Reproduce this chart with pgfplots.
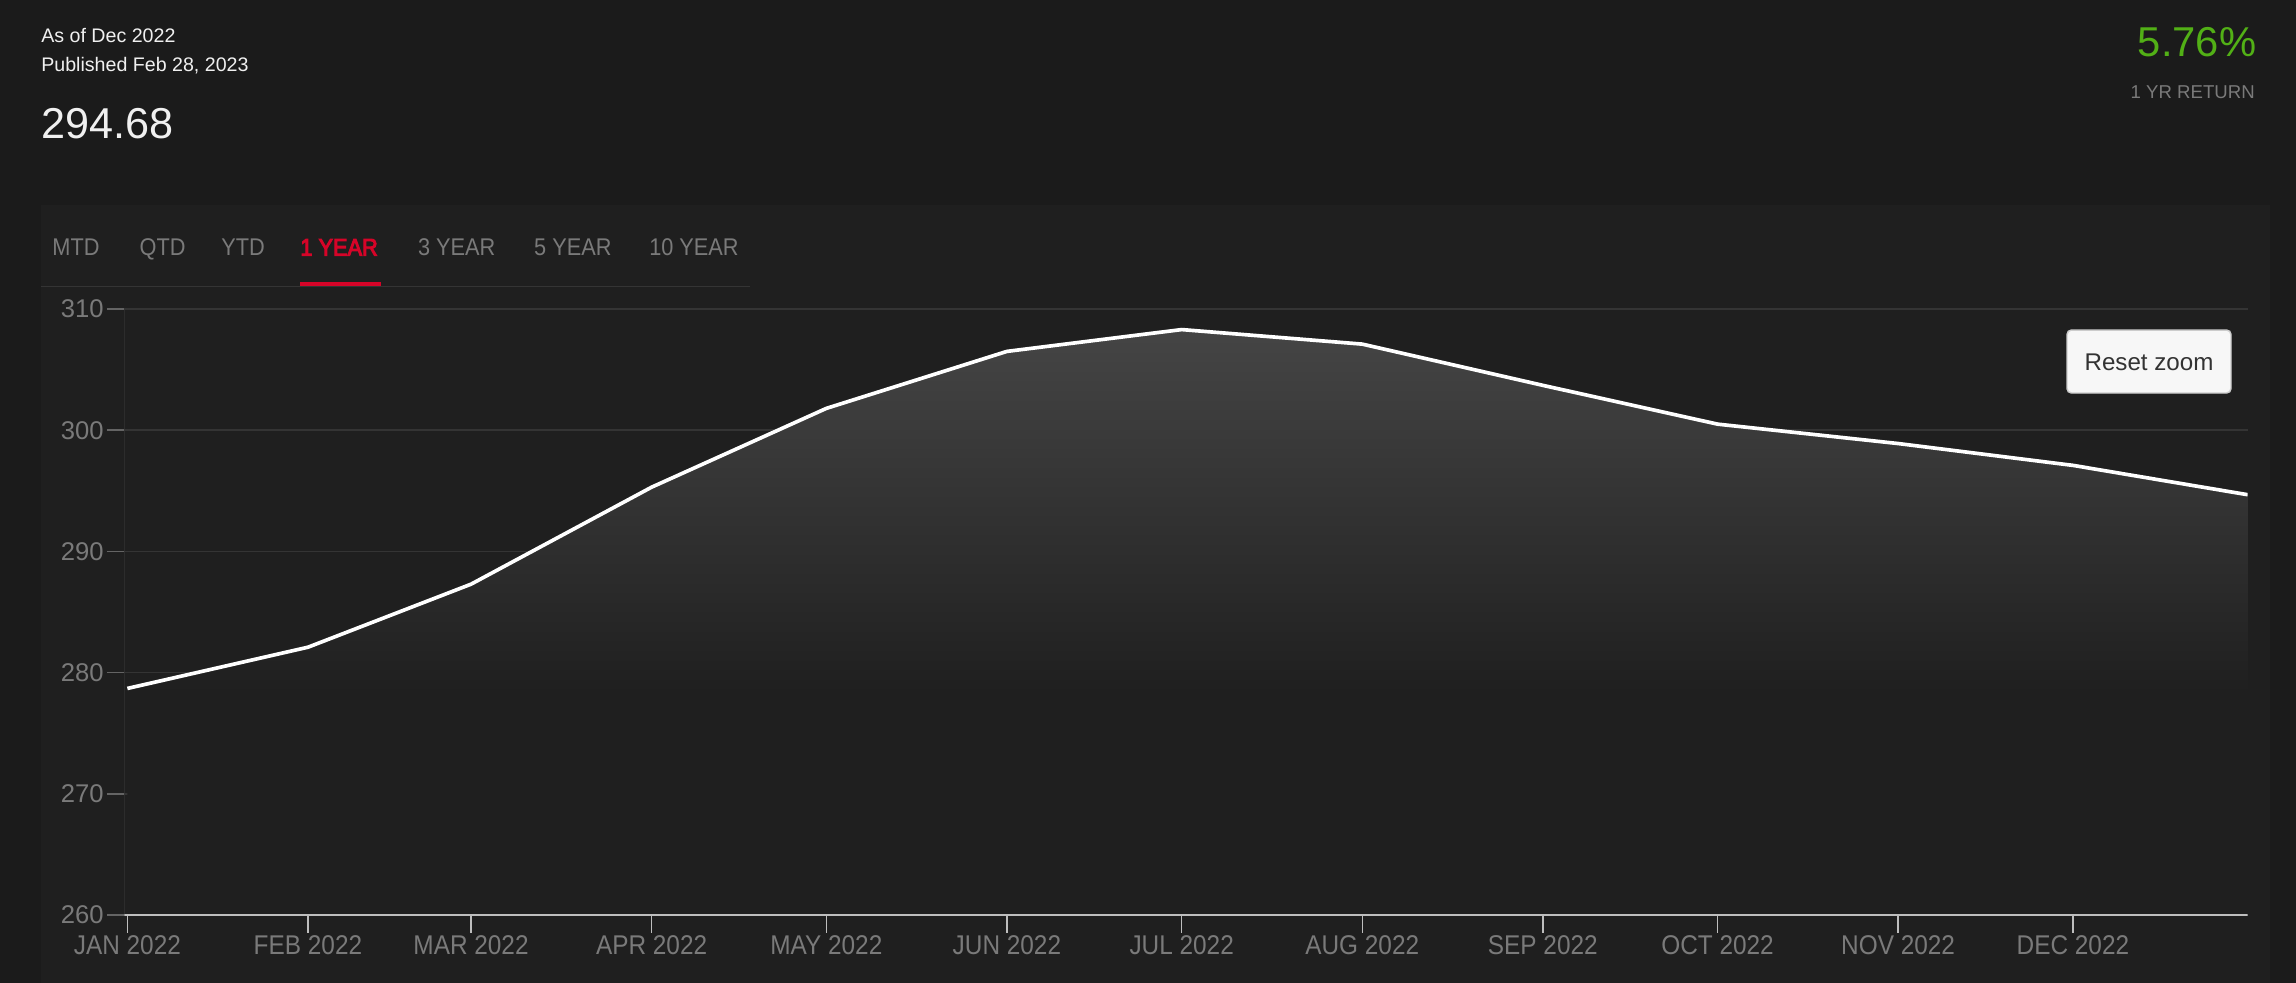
\documentclass[border=0pt]{standalone}
\usepackage{fontspec}
\setmainfont{Liberation Sans}
\newfontfamily\condf[FakeStretch=0.9]{Liberation Sans}
\newfontfamily\condfb[FakeStretch=0.9, FakeBold=4]{Liberation Sans}
\usepackage{pgfplots}
\pgfplotsset{compat=1.18}

\definecolor{pagebg}{RGB}{27,27,27}
\definecolor{panelbg}{RGB}{31,31,31}
\definecolor{gridc}{RGB}{52,52,52}
\definecolor{labc}{RGB}{122,122,122}
\definecolor{hdr}{RGB}{240,240,240}
\definecolor{tabred}{RGB}{214,4,40}
\definecolor{retgreen}{RGB}{82,176,22}
\definecolor{xaxc}{RGB}{190,190,190}
\definecolor{ytickc}{RGB}{100,100,100}

% path bbox maps onto 25bp..75bp
\pgfdeclareverticalshading{areafade}{100bp}{%
  rgb(0bp)=(0.122,0.122,0.122); rgb(44bp)=(0.122,0.122,0.122);
  rgb(75bp)=(0.27,0.27,0.27); rgb(100bp)=(0.27,0.27,0.27)}

\begin{document}
\begin{tikzpicture}[x=1pt,y=1pt]
\path[use as bounding box, fill=pagebg] (-85,-46) rectangle (1483,625);
\fill[panelbg] (-57,-46) rectangle (1465,485);

\begin{axis}[
  at={(0,0)}, anchor=south west,
  width=1450pt, height=414pt, scale only axis,
  xmin=-0.5, xmax=364, ymin=260, ymax=310,
  xtick={0,31,59,90,120,151,181,212,243,273,304,334},
  xticklabels={JAN 2022,FEB 2022,MAR 2022,APR 2022,MAY 2022,JUN 2022,
    JUL 2022,AUG 2022,SEP 2022,OCT 2022,NOV 2022,DEC 2022},
  ytick={260,270,280,290,300,310},
  /pgf/number format/assume math mode=true,
  axis line style={draw=none},
  tick align=outside, tick pos=left,
  major tick length=12pt,
  xtick style={draw=xaxc, line width=1pt},
  ytick style={draw=ytickc, line width=1pt},
  ymajorgrids, grid style={draw=gridc, line width=1pt},
  xticklabel style={font=\condf\fontsize{18.5}{20}\selectfont, text=labc, inner sep=0pt, yshift=-1.5pt},
  yticklabel style={font=\fontsize{17.5}{20}\selectfont, text=labc, inner sep=0pt, xshift=-2pt},
]
\addplot[draw=none, shading=areafade] coordinates {
  (0,260) (0,278.7) (31,282.1) (59,287.3) (90,295.3) (120,301.8) (151,306.5)
  (181,308.3) (212,307.1) (243,303.7) (273,300.5) (304,298.9) (334,297.1)
  (364,294.68) (364,260)};
\draw[gridc, line width=1pt] (axis cs:-0.5,260) -- (axis cs:-0.5,310);
\draw[xaxc, line width=1.6pt] (axis cs:-0.5,260) -- (axis cs:364,260);
\addplot[white, line width=2.5pt, line join=round] coordinates {
  (0,278.7) (31,282.1) (59,287.3) (90,295.3) (120,301.8) (151,306.5)
  (181,308.3) (212,307.1) (243,303.7) (273,300.5) (304,298.9) (334,297.1)
  (364,294.68)};
\end{axis}

% header
\node[anchor=base west, inner sep=0, text=hdr, font=\fontsize{13.4}{16}\selectfont] at (-57,596.1) {As of Dec 2022};
\node[anchor=base west, inner sep=0, text=hdr, font=\fontsize{13.4}{16}\selectfont] at (-57,576) {Published Feb 28, 2023};
\node[anchor=base west, inner sep=0, text=hdr, font=\fontsize{29.5}{32}\selectfont] at (-57,530.5) {294.68};
\node[anchor=base east, inner sep=0, text=retgreen, font=\fontsize{28.5}{30}\selectfont] at (1456,586.3) {5.76\%};
\node[anchor=base east, inner sep=0, text=labc, font=\fontsize{12.7}{15}\selectfont] at (1455,558) {1 YR RETURN};

% period tabs
\draw[gridc, line width=1.2pt] (-57,429.3) -- (427,429.3);
\fill[tabred] (120,429.7) rectangle (175,432.6);
\begin{scope}[every node/.style={anchor=base west, inner sep=0, text=labc,
    font=\condf\fontsize{16.5}{19}\selectfont}]
\node at (-49.4,450.4) {MTD};
\node at (10.2,450.4) {QTD};
\node at (66,450.4) {YTD};
\node[text=tabred, font=\condfb\fontsize{16.5}{19}\selectfont] at (120,450.4) {1 YEAR};
\node at (200.3,450.4) {3 YEAR};
\node at (279.6,450.4) {5 YEAR};
\node at (358.2,450.4) {10 YEAR};
\end{scope}

% reset zoom button
\draw[fill={rgb,255:red,247;green,247;blue,247}, draw={rgb,255:red,204;green,204;blue,204}, line width=1pt, rounded corners=3pt]
  (1326.6,356.6) rectangle (1438.6,399.6);
\node[anchor=base, inner sep=0, text={rgb,255:red,51;green,51;blue,51}, font=\fontsize{16.5}{19}\selectfont] at (1382.6,372.3) {Reset zoom};
\end{tikzpicture}
\end{document}
